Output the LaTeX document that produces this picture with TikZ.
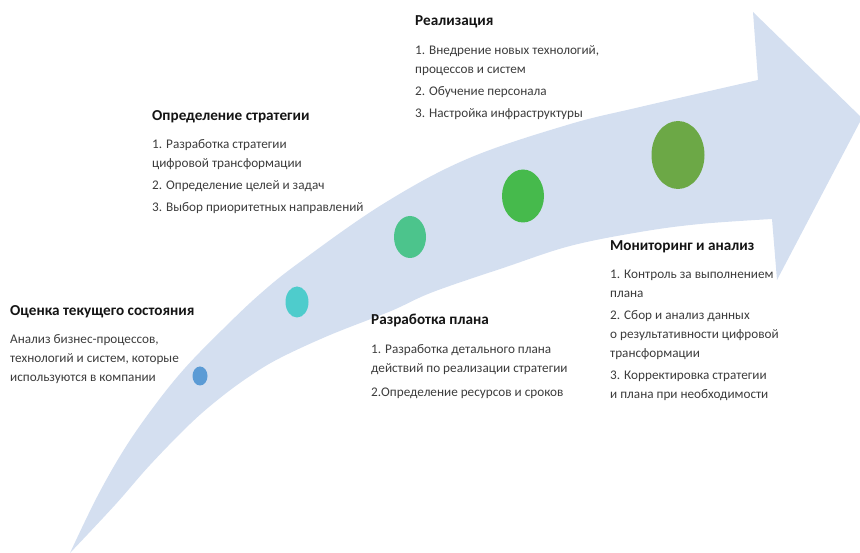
\documentclass[tikz,border=0pt]{standalone}
\usepackage{fontspec}
\setmainfont{Carlito}
\usetikzlibrary{shapes.geometric}

\definecolor{bandblue}{RGB}{212,223,240}
\definecolor{dotA}{RGB}{91,155,213}
\definecolor{dotB}{RGB}{78,204,204}
\definecolor{dotC}{RGB}{76,196,140}
\definecolor{dotD}{RGB}{70,186,76}
\definecolor{dotE}{RGB}{108,168,70}
\definecolor{headtxt}{RGB}{20,20,20}
\definecolor{bodytxt}{RGB}{60,60,60}

\tikzset{
  ttl/.style={anchor=base west, inner sep=0pt, text=headtxt,
              font=\fontsize{15.2}{18}\selectfont\bfseries},
  txt/.style={anchor=base west, inner sep=0pt, text=bodytxt,
              font=\fontsize{13.2}{16}\selectfont},
  dot/.style={ellipse, draw=none, inner sep=0pt}
}

\begin{document}
\begin{tikzpicture}[x=1pt,y=-1pt]
\useasboundingbox (0,0) rectangle (860,553);

% curved progress arrow
\begin{scope}
\clip (0,0) rectangle (860,553);
\fill[bandblue]
  plot[smooth,tension=0.6] coordinates {(70,553) (97,497) (125,448) (155,405)
      (185,368) (222,330) (260,294) (300,262) (383,204) (467,159) (567,125)
      (640,107) (758,80)}
  -- (753,12) -- (862,118) -- (777,280)
  -- plot[smooth,tension=0.6] coordinates {(772,219) (700,224) (640,232)
      (570,246) (506,267) (433,292) (391,311) (330,335) (280,358) (250,376)
      (220,398) (190,424) (150,465) (115,505) (70,553)}
  -- cycle;
\end{scope}

% stage markers
\node[dot, fill=dotA, minimum width=15pt, minimum height=19pt] (s1) at (200,376) {};
\node[dot, fill=dotB, minimum width=23pt, minimum height=31pt] (s2) at (297,302) {};
\node[dot, fill=dotC, minimum width=32pt, minimum height=42pt] (s3) at (410,237) {};
\node[dot, fill=dotD, minimum width=42pt, minimum height=53pt] (s4) at (523,196) {};
\node[dot, fill=dotE, minimum width=53pt, minimum height=68pt] (s5) at (678,155) {};

% stage 1
\node[ttl] (t1) at (10,316) {Оценка текущего состояния};
\node[txt] (t1a) at (10,344) {Анализ бизнес-процессов,};
\node[txt] (t1b) at (10,363) {технологий и систем, которые};
\node[txt] (t1c) at (10,382) {используются в компании};

% stage 2
\node[ttl] (t2) at (152,121) {Определение стратегии};
\node[txt] (t2a) at (152,149) {1. Разработка стратегии};
\node[txt] (t2b) at (152,168) {цифровой трансформации};
\node[txt] (t2c) at (152,190) {2. Определение целей и задач};
\node[txt] (t2d) at (152,212) {3. Выбор приоритетных направлений};

% stage 3
\node[ttl] (t3) at (415,26) {Реализация};
\node[txt] (t3a) at (415,55) {1. Внедрение новых технологий,};
\node[txt] (t3b) at (415,74) {процессов и систем};
\node[txt] (t3c) at (415,96) {2. Обучение персонала};
\node[txt] (t3d) at (415,118) {3. Настройка инфраструктуры};

% stage 4
\node[ttl] (t4) at (371,325) {Разработка плана};
\node[txt] (t4a) at (371,354) {1. Разработка детального плана};
\node[txt] (t4b) at (371,373) {действий по реализации стратегии};
\node[txt] (t4c) at (371,396) {2.Определение ресурсов и сроков};

% stage 5
\node[ttl] (t5) at (610,251) {Мониторинг и анализ};
\node[txt] (t5a) at (610,279) {1. Контроль за выполнением};
\node[txt] (t5b) at (610,298) {плана};
\node[txt] (t5c) at (610,320) {2. Сбор и анализ данных};
\node[txt] (t5d) at (610,339) {о результативности цифровой};
\node[txt] (t5e) at (610,358) {трансформации};
\node[txt] (t5f) at (610,380) {3. Корректировка стратегии};
\node[txt] (t5g) at (610,399) {и плана при необходимости};
\end{tikzpicture}
\end{document}
